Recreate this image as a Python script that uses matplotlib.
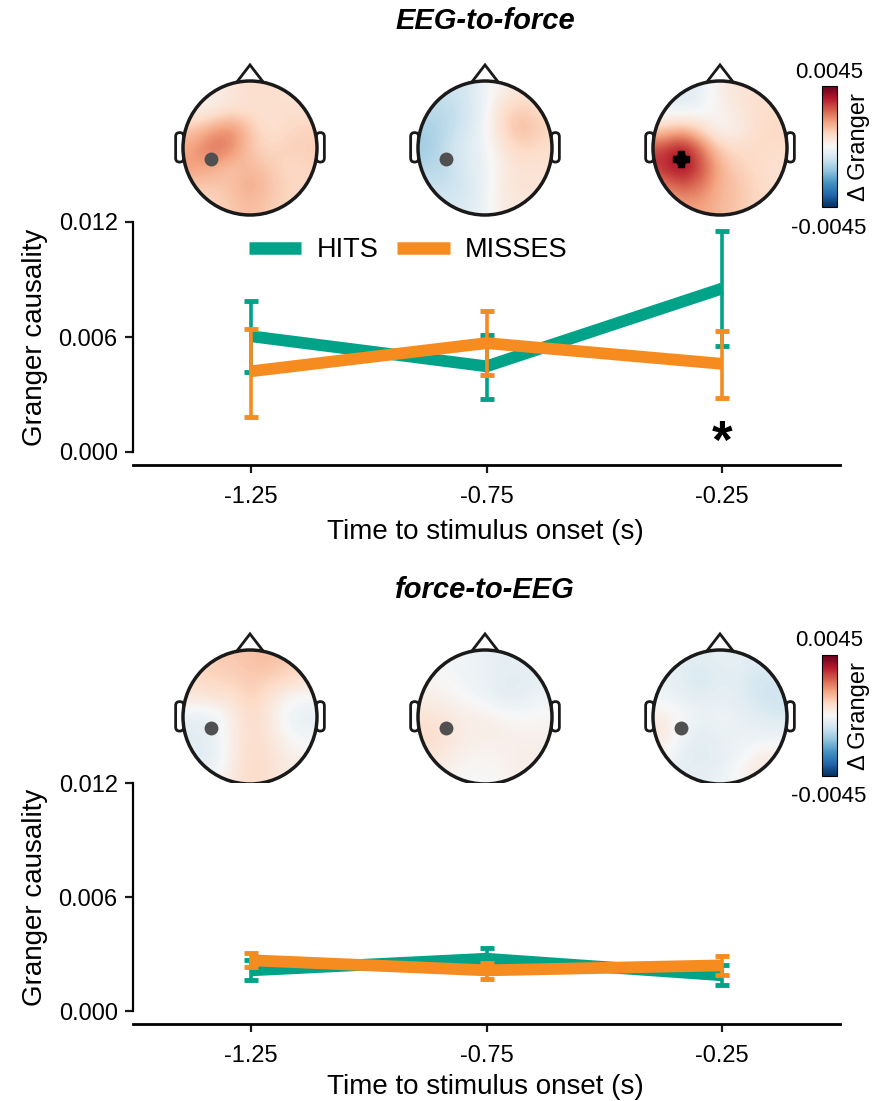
import matplotlib
matplotlib.use('Agg')

import matplotlib.pyplot as plt
import numpy as np
from matplotlib.patches import Circle, FancyBboxPatch
from matplotlib.lines import Line2D
from matplotlib.cm import ScalarMappable
from matplotlib.colors import Normalize

plt.rcParams['font.family'] = ['Liberation Sans', 'DejaVu Sans']

# -------------------
# Data
# -------------------
times = [-1.25, -0.75, -0.25]
time_labels = ['-1.25', '-0.75', '-0.25']

# EEG-to-force: means and error bar ends
e2f_hits = [0.00604, 0.00447, 0.00853]
e2f_hits_lo = [0.00416, 0.00274, 0.00553]
e2f_hits_hi = [0.00789, 0.00610, 0.01153]
e2f_miss = [0.00421, 0.00568, 0.00460]
e2f_miss_lo = [0.00184, 0.00400, 0.00284]
e2f_miss_hi = [0.00644, 0.00737, 0.00632]

# force-to-EEG
f2e_hits = [0.00214, 0.00275, 0.00188]
f2e_hits_lo = [0.00161, 0.00223, 0.00135]
f2e_hits_hi = [0.00267, 0.00332, 0.00240]
f2e_miss = [0.00267, 0.00214, 0.00240]
f2e_miss_lo = [0.00232, 0.00167, 0.00188]
f2e_miss_hi = [0.00305, 0.00253, 0.00288]

# topographies (delta Granger, x1e-3), rows front->back, cols left->right
topo_e2f_125 = [[0.3, 0.3, 0.5, 0.8, 0.8, 0.6, 0.5],
                [0.2, 0.2, 0.7, 0.6, 0.7, 0.8, 0.7],
                [1.2, 1.8, 2.2, 1.3, 0.6, 0.9, 1.0],
                [1.8, 2.6, 2.3, 1.2, 0.9, 1.1, 1.1],
                [1.9, 1.7, 1.2, 1.5, 1.2, 0.8, 1.0],
                [1.2, 1.2, 1.3, 1.8, 1.3, 1.0, 0.9],
                [0.8, 0.9, 1.2, 1.4, 1.2, 0.9, 0.8]]
topo_e2f_075 = [[-1.0, -1.0, -0.8, -0.2, 0.3, 0.5, 0.5],
                [-1.2, -1.2, -0.9, -0.2, 0.9, 1.2, 0.8],
                [-1.5, -1.2, -0.8, -0.1, 1.0, 1.5, 1.0],
                [-1.6, -1.0, -0.6, -0.2, 0.6, 1.0, 0.8],
                [-1.3, -1.2, -0.6, -0.3, 0.4, 0.7, 0.6],
                [-1.0, -1.0, -0.8, -0.3, 0.5, 0.6, 0.6],
                [-0.8, -0.8, -0.6, -0.2, 0.4, 0.5, 0.5]]
topo_e2f_025 = [[-0.4, -0.6, -0.4, 0.3, 0.6, 0.7, 0.6],
                [-0.3, -0.4, -0.2, 0.2, 0.5, 0.8, 0.8],
                [1.0, 1.5, 0.8, 0.0, 0.3, 0.8, 0.9],
                [3.0, 3.8, 2.5, 1.0, 0.8, 0.9, 0.8],
                [3.3, 4.0, 3.0, 1.6, 1.0, 0.8, 0.7],
                [2.2, 2.8, 2.4, 1.5, 1.3, 0.9, 0.7],
                [1.4, 1.8, 1.8, 1.5, 1.2, 0.9, 0.8]]
topo_f2e_125 = [[0.9, 1.1, 1.2, 1.3, 1.4, 1.2, 1.0],
                [0.8, 1.0, 1.0, 1.2, 1.1, 0.9, 0.7],
                [0.5, 0.6, 0.6, 1.1, 0.6, 0.1, -0.1],
                [-0.4, -0.4, 0.2, 0.9, 0.5, -0.3, -0.4],
                [-0.5, -0.4, 0.3, 0.8, 0.6, 0.0, -0.2],
                [-0.6, -0.5, 0.2, 0.9, 0.7, 0.3, 0.2],
                [-0.3, -0.2, 0.4, 0.9, 0.7, 0.4, 0.3]]
topo_f2e_075 = [[0.0, -0.1, -0.2, -0.3, -0.4, -0.4, -0.3],
                [0.1, 0.0, -0.2, -0.3, -0.5, -0.5, -0.4],
                [0.3, 0.2, 0.0, -0.2, -0.5, -0.4, -0.2],
                [0.6, 0.5, 0.3, 0.3, 0.1, 0.0, 0.1],
                [0.9, 0.6, 0.3, 0.3, 0.3, 0.2, 0.2],
                [0.6, 0.4, 0.2, 0.1, 0.2, 0.3, 0.3],
                [0.3, 0.2, 0.0, 0.0, 0.1, 0.3, 0.3]]
topo_f2e_025 = [[-0.2, -0.4, -0.5, -0.4, -0.4, -0.5, -0.5],
                [-0.3, -0.5, -0.8, -0.5, -0.5, -0.8, -0.8],
                [-0.2, -0.3, -0.5, -0.3, -0.5, -0.8, -1.0],
                [0.4, 0.0, -0.3, -0.2, -0.3, -0.5, -0.6],
                [0.5, -0.2, -0.5, -0.3, -0.3, -0.3, -0.3],
                [0.1, -0.4, -0.6, -0.4, -0.2, 0.3, 0.4],
                [-0.2, -0.4, -0.4, -0.3, 0.1, 0.5, 0.4]]

cbar_lim = 0.0045
electrode = (-0.58, -0.16)   # seed electrode position on the head

GREEN = '#00a388'
ORANGE = '#f68b1f'

W, H = 876, 1101
fig = plt.figure(figsize=(W / 100, H / 100), dpi=100)


def px_axes(left, top, right, bottom):
    return fig.add_axes([left / W, 1 - bottom / H, (right - left) / W, (bottom - top) / H])


def draw_head(cx, cy, grid, significant=False):
    r = 67  # head radius in px
    s = 1.3 * r
    ax = px_axes(cx - s, cy - s, cx + s, cy + s)
    ax.set_xlim(-1.3, 1.3)
    ax.set_ylim(-1.3, 1.3)
    ax.axis('off')
    # ears
    for x0 in (-1.11, 0.99):
        ear = FancyBboxPatch((x0, -0.21), 0.12, 0.44, boxstyle='round,pad=0,rounding_size=0.06',
                             fc='white', ec='#1a1a1a', lw=2.0, zorder=1)
        ax.add_patch(ear)
    # nose
    ax.plot([-0.2, 0, 0.2], [0.98, 1.24, 0.98], color='#1a1a1a', lw=2.0, zorder=1,
            solid_joinstyle='miter')
    ax.add_patch(Circle((0, 0), 1, fc='white', ec='none', zorder=2))
    im = ax.imshow(np.array(grid) * 1e-3, cmap='RdBu_r', vmin=-cbar_lim, vmax=cbar_lim,
                   extent=[-1, 1, -1, 1], origin='upper', interpolation='bicubic', zorder=3)
    clip = Circle((0, 0), 1, transform=ax.transData)
    im.set_clip_path(clip)
    ax.add_patch(Circle((0, 0), 1, fc='none', ec='#1a1a1a', lw=2.5, zorder=5))
    if significant:
        ax.plot(*electrode, marker='P', ms=11, color='black', mec='black', zorder=6)
        ax.plot(*electrode, marker='o', ms=9, color='black', mec='none', zorder=6)
    else:
        ax.plot(*electrode, marker='o', ms=10, color='#505050', mec='none', zorder=6)


def draw_colorbar(top):
    cax = px_axes(822, top, 837, top + 121)
    sm = ScalarMappable(norm=Normalize(-cbar_lim, cbar_lim), cmap='RdBu_r')
    cb = fig.colorbar(sm, cax=cax, ticks=[])
    cb.outline.set_linewidth(0.8)
    fig.text(829 / W, 1 - (top - 14) / H, '0.0045', ha='center', va='center', fontsize=16)
    fig.text(829 / W, 1 - (top + 142) / H, '-0.0045', ha='center', va='center', fontsize=16)
    fig.text(859 / W, 1 - (top + 61) / H, '\u0394 Granger', ha='center', va='center',
             rotation=90, fontsize=17)


def draw_lines(ax_box, hits, hits_lo, hits_hi, miss, miss_lo, miss_hi, y0px, y12px):
    left, top, right, bottom = ax_box
    ax = px_axes(left, top, right, bottom)
    pad = 0.012 * (bottom - y0px) / (y0px - y12px)
    ax.set_xlim(-1.5, 0.0)
    ax.set_ylim(-pad, 0.012)
    for m, lo, hi, c in ((hits, hits_lo, hits_hi, GREEN), (miss, miss_lo, miss_hi, ORANGE)):
        m = np.array(m)
        err = [m - np.array(lo), np.array(hi) - m]
        ax.plot(times, m, color=c, lw=8.5, solid_capstyle='butt')
        ax.errorbar(times, m, yerr=err, fmt='none', ecolor=c, elinewidth=2.6,
                    capsize=5, capthick=3.5)
    ax.set_xticks(times)
    ax.set_xticklabels(time_labels)
    ax.set_yticks([0, 0.006, 0.012])
    ax.set_yticklabels(['0.000', '0.006', '0.012'])
    for side in ('top', 'right'):
        ax.spines[side].set_visible(False)
    ax.spines['left'].set_bounds(0, 0.012)
    ax.spines['left'].set_linewidth(1.6)
    ax.spines['bottom'].set_linewidth(2.0)
    ax.tick_params(axis='both', labelsize=17, width=1.6, length=6, color='#1a1a1a')
    ax.tick_params(axis='x', pad=9)
    ax.tick_params(axis='y', pad=5)
    return ax


# -------------------
# Panel 1: EEG-to-force
# -------------------
fig.text(485 / W, 1 - 21 / H, 'EEG-to-force', ha='center', va='center', fontsize=21,
         fontweight='bold', fontstyle='italic')
for t, g, sig in zip([250, 485, 720], [topo_e2f_125, topo_e2f_075, topo_e2f_025],
                     [False, False, True]):
    draw_head(t, 148, g, sig)
draw_colorbar(86)
ax1 = draw_lines((133, 222, 840, 465), e2f_hits, e2f_hits_lo, e2f_hits_hi,
                 e2f_miss, e2f_miss_lo, e2f_miss_hi, 452, 222)
ax1.text(-0.25, 0.0004, '*', ha='center', va='center', fontsize=38, fontweight='bold')
handles = [Line2D([], [], color=GREEN, lw=9, solid_capstyle='butt'),
           Line2D([], [], color=ORANGE, lw=9, solid_capstyle='butt')]
ax1.legend(handles, ['HITS', 'MISSES'], loc='center', bbox_to_anchor=(408 / W, 1 - 250 / H),
           bbox_transform=fig.transFigure, ncol=2, frameon=False, fontsize=19.5,
           handlelength=1.95, handletextpad=0.55, columnspacing=0.7)
fig.text(35 / W, 1 - 337 / H, 'Granger causality', rotation=90, ha='center', va='center',
         fontsize=20)
fig.text(485 / W, 1 - 532 / H, 'Time to stimulus onset (s)', ha='center', va='center',
         fontsize=20)

# -------------------
# Panel 2: force-to-EEG
# -------------------
fig.text(485 / W, 1 - 590 / H, 'force-to-EEG', ha='center', va='center', fontsize=21,
         fontweight='bold', fontstyle='italic')
for t, g in zip([250, 485, 720], [topo_f2e_125, topo_f2e_075, topo_f2e_025]):
    draw_head(t, 717, g)
draw_colorbar(655)
ax2 = draw_lines((133, 783, 840, 1024), f2e_hits, f2e_hits_lo, f2e_hits_hi,
                 f2e_miss, f2e_miss_lo, f2e_miss_hi, 1011, 783)
fig.text(35 / W, 1 - 897 / H, 'Granger causality', rotation=90, ha='center', va='center',
         fontsize=20)
fig.text(485 / W, 1 - 1087 / H, 'Time to stimulus onset (s)', ha='center', va='center',
         fontsize=20)

fig.savefig('out.png', dpi=100, facecolor='white')
